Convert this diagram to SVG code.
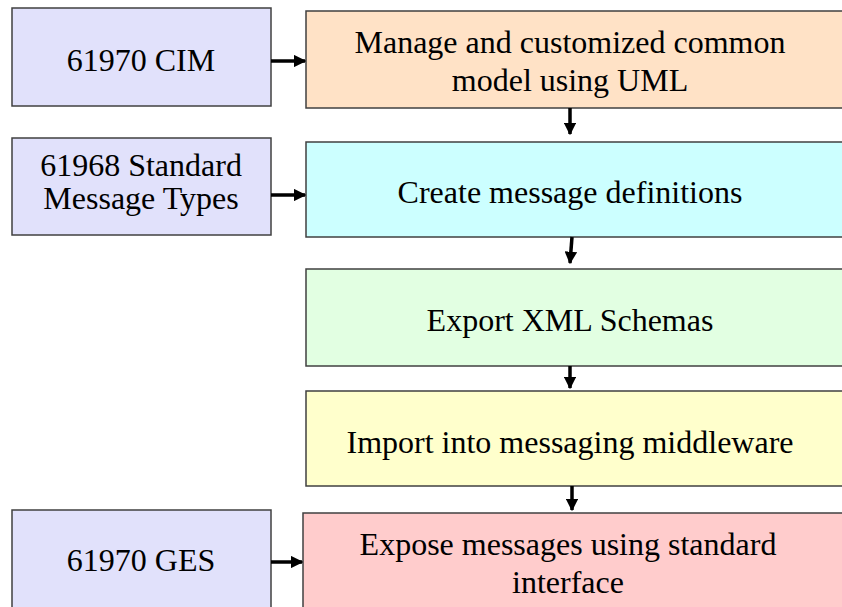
<svg xmlns="http://www.w3.org/2000/svg" width="842" height="607" viewBox="0 0 842 607">
<style>
.box{stroke:#404040;stroke-width:1.5}
.std{fill:#e1e1fb}
.t{font-family:'Liberation Serif','Times New Roman','DejaVu Serif',serif;font-size:32px;fill:#000;text-anchor:middle}
.con{stroke:#000;stroke-width:3.5;fill:none}
</style>
<defs>
<marker id="ah" viewBox="0 0 10 10" refX="9" refY="5" markerWidth="3.6" markerHeight="3.6" orient="auto" markerUnits="strokeWidth">
<path d="M0,0 L10,5 L0,10 z" fill="#000"/>
</marker>
</defs>
<rect width="842" height="607" fill="#fff"/>
<g id="cim">
<rect class="box std" x="12" y="8" width="259" height="98"/>
<text class="t" font-family="Liberation Serif, serif" x="141" y="71">61970 CIM</text>
</g>
<g id="manage">
<rect class="box" fill="#ffe2c6" x="306" y="11" width="545" height="97"/>
<text class="t" font-family="Liberation Serif, serif" x="570" y="53">Manage and customized common</text>
<text class="t" font-family="Liberation Serif, serif" x="570" y="91">model using UML</text>
</g>
<g id="smt">
<rect class="box std" x="12" y="138" width="259" height="97"/>
<text class="t" font-family="Liberation Serif, serif" x="141" y="176">61968 Standard</text>
<text class="t" font-family="Liberation Serif, serif" x="141" y="209">Message Types</text>
</g>
<g id="create">
<rect class="box" fill="#ccffff" x="306" y="142" width="545" height="95"/>
<text class="t" font-family="Liberation Serif, serif" x="570" y="203">Create message definitions</text>
</g>
<g id="export">
<rect class="box" fill="#e2ffe2" x="306" y="269" width="545" height="97"/>
<text class="t" font-family="Liberation Serif, serif" x="570" y="331">Export XML Schemas</text>
</g>
<g id="import">
<rect class="box" fill="#ffffcc" x="306" y="391" width="545" height="95"/>
<text class="t" font-family="Liberation Serif, serif" x="570" y="453">Import into messaging middleware</text>
</g>
<g id="ges">
<rect class="box std" x="12" y="510" width="259" height="105"/>
<text class="t" font-family="Liberation Serif, serif" x="141" y="571">61970 GES</text>
</g>
<g id="expose">
<rect class="box" fill="#ffcccc" x="303" y="513" width="548" height="100"/>
<text class="t" font-family="Liberation Serif, serif" x="568" y="555">Expose messages using standard</text>
<text class="t" font-family="Liberation Serif, serif" x="568" y="593">interface</text>
</g>
<g id="connectors">
<line class="con" x1="271" y1="61" x2="305" y2="61" marker-end="url(#ah)"/>
<line class="con" x1="271" y1="195" x2="305" y2="195" marker-end="url(#ah)"/>
<line class="con" x1="271" y1="562" x2="302" y2="562" marker-end="url(#ah)"/>
<line class="con" x1="570" y1="108" x2="570" y2="134" marker-end="url(#ah)"/>
<line class="con" x1="572" y1="237" x2="570" y2="263" marker-end="url(#ah)"/>
<line class="con" x1="570" y1="366" x2="570" y2="388" marker-end="url(#ah)"/>
<line class="con" x1="572" y1="486" x2="572" y2="510" marker-end="url(#ah)"/>
</g>
</svg>
